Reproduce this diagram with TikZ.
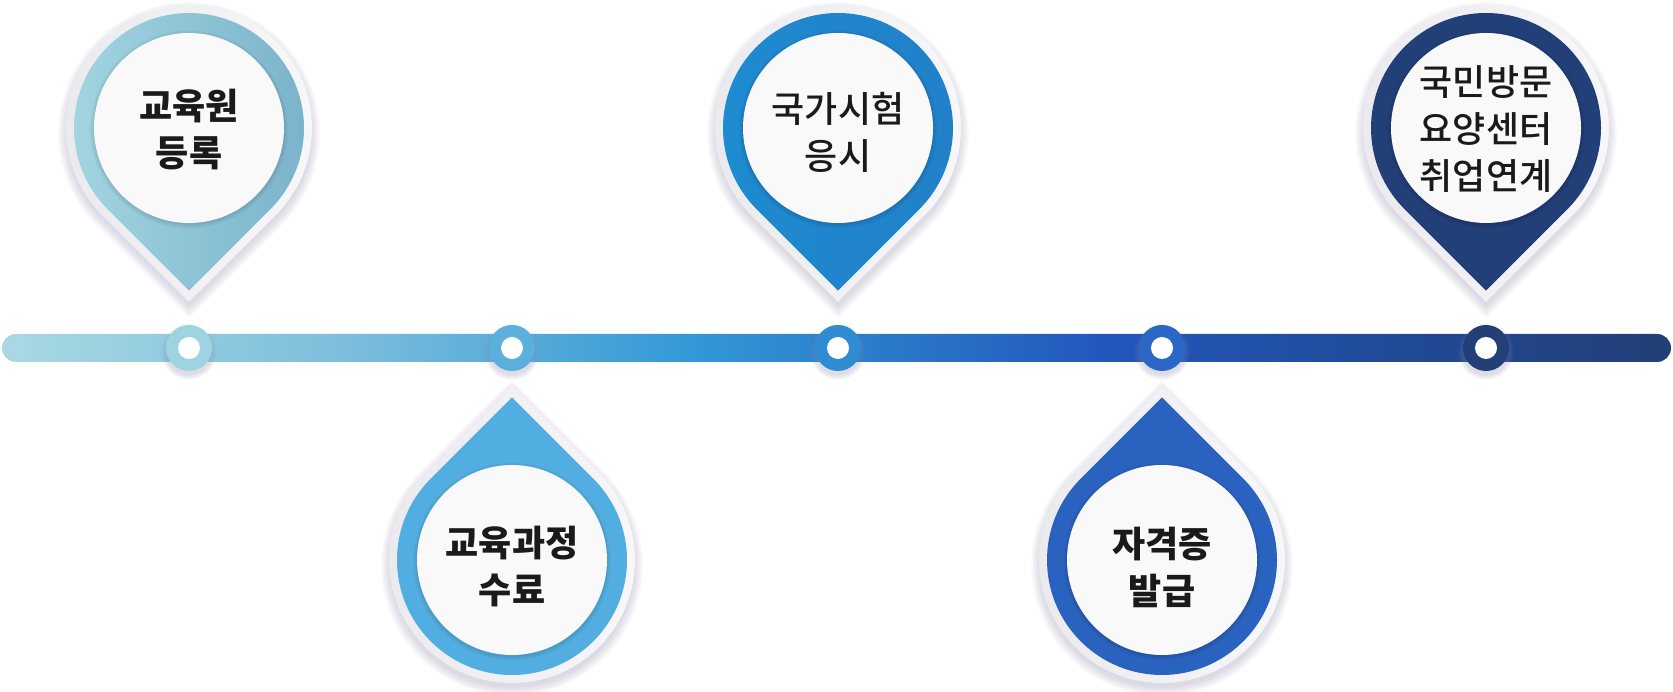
\documentclass[tikz,border=0pt]{standalone}
\usepackage{fontspec}
\newfontfamily\kr{Noto Sans CJK KR}
\newfontfamily\krm{Noto Sans CJK KR Medium}
\usetikzlibrary{calc}
\definecolor{bA}{HTML}{A9D9E3}
\definecolor{bB}{HTML}{7EBFDC}
\definecolor{bC}{HTML}{3399D6}
\definecolor{bD}{HTML}{2257BD}
\definecolor{bE}{HTML}{214C9A}
\definecolor{bF}{HTML}{223E76}
\definecolor{pAl}{HTML}{A4D6E2}
\definecolor{pAr}{HTML}{79B2CA}
\definecolor{pB}{HTML}{52AEE0}
\definecolor{pCl}{HTML}{1E8BD0}
\definecolor{pCr}{HTML}{2180C9}
\definecolor{pD}{HTML}{2A63BF}
\definecolor{pE}{HTML}{223F78}
\definecolor{dA}{HTML}{9ED4E1}
\definecolor{dB}{HTML}{5AAFDD}
\definecolor{dC}{HTML}{2F8CD3}
\definecolor{dD}{HTML}{2A67C6}
\definecolor{dE}{HTML}{223F78}
\definecolor{haloL}{HTML}{EAEAEE}
\definecolor{haloR}{HTML}{F8F8FA}
\definecolor{shadowc}{HTML}{8E8AAE}
\definecolor{innerc}{HTML}{F9F9FA}
\definecolor{txtc}{HTML}{1A1A1A}
\pgfdeclarehorizontalshading{barshade}{100bp}{color(0bp)=(bA); color(25bp)=(bA); color(35bp)=(bB); color(45.5bp)=(bC); color(58bp)=(bD); color(66bp)=(bE); color(75bp)=(bF); color(100bp)=(bF)}
\newcommand\pindown[1]{(-45:#1) arc[start angle=-45,end angle=225,radius=#1] -- (0pt,{-1.41421*#1}) -- cycle}
\newcommand\pinup[1]{(135:#1) arc[start angle=135,end angle=405,radius=#1] -- (0pt,{1.41421*#1}) -- cycle}
\newcommand\pinbody[4]{%
 \begin{scope}[shift={(#2,#3)}]
  \foreach \k in {0,...,9}{\pgfmathsetmacro\rr{122+\k}\fill[shadowc,opacity=0.03,yshift=-5pt] #1{\rr pt};}
  \shade[left color=haloL,right color=haloR] #1{123pt};
  \path[#4] #1{115pt};
  \foreach \k in {0,...,4}{\pgfmathsetmacro\rr{95+\k}\fill[black,opacity=0.025] (0pt,-1.5pt) circle[radius=\rr pt];}
  \fill[innerc] (0pt,0pt) circle[radius=95pt];
 \end{scope}}
\tikzset{
 lbl/.style={align=center, text=txtc, inner sep=0pt, font=\krm\fontsize{36pt}{47pt}\selectfont},
 lblb/.style={align=center, text=txtc, inner sep=0pt, font=\kr\fontsize{36pt}{47pt}\selectfont\bfseries},
 dotc/.style={circle, minimum size=46pt, inner sep=0pt}
}
\begin{document}
\begin{tikzpicture}[x=1pt,y=1pt]
\useasboundingbox (0,0) rectangle (1673,692);
\fill[white] (0,0) rectangle (1673,692);
% pins
\pinbody{\pindown}{189}{564}{left color=pAl,right color=pAr}
\pinbody{\pinup}{512}{132}{fill=pB}
\pinbody{\pindown}{838}{564}{left color=pCl,right color=pCr}
\pinbody{\pinup}{1162}{132}{fill=pD}
\pinbody{\pindown}{1486}{564}{fill=pE}
% timeline bar
\shade[shading=barshade, rounded corners=14pt] (2,330) rectangle (1671,358);
% dots
\foreach \x/\c/\n in {189/dA/d1, 512/dB/d2, 838/dC/d3, 1162/dD/d4, 1486/dE/d5}{
  \foreach \k in {0,...,5}{\pgfmathsetmacro\rr{23+\k}\fill[shadowc,opacity=0.05] (\x,340) circle[radius=\rr pt];}
  \node[dotc, fill=\c] (\n) at (\x,344) {};
  \fill[white] (\n.center) circle[radius=11pt];
}
% labels
\node[lblb] (t1) at (189,562) {교육원\\등록};
\node[lblb] (t2) at (512,125) {교육과정\\수료};
\node[lbl]  (t3) at (838,560) {국가시험\\응시};
\node[lblb] (t4) at (1162,125) {자격증\\발급};
\node[lbl]  (t5) at (1486,563) {국민방문\\요양센터\\취업연계};
\end{tikzpicture}
\end{document}
